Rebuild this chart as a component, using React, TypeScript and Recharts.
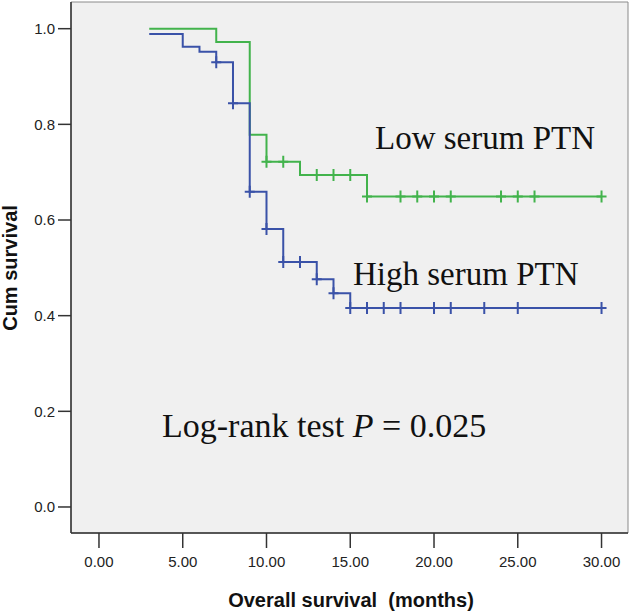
import { Line, LineChart, ReferenceArea, XAxis, YAxis } from "recharts";

// Kaplan-Meier estimates (time in months, cumulative survival after that time)
const lowTime = [3, 7, 9, 10, 11, 12, 13, 14, 15, 16, 18, 19, 20, 21, 24, 25, 26, 30];
const lowSurvival = [1.0, 0.972, 0.778, 0.722, 0.722, 0.694, 0.694, 0.694, 0.694, 0.649, 0.649, 0.649, 0.649, 0.649, 0.649, 0.649, 0.649, 0.649];
const lowCensored = [10, 11, 13, 14, 15, 16, 18, 19, 20, 21, 24, 25, 26, 30];

const highTime = [3, 5, 6, 7, 8, 9, 10, 11, 12, 13, 14, 15, 16, 17, 18, 20, 21, 23, 25, 30];
const highSurvival = [0.989, 0.962, 0.952, 0.93, 0.844, 0.659, 0.581, 0.512, 0.512, 0.476, 0.447, 0.416, 0.416, 0.416, 0.416, 0.416, 0.416, 0.416, 0.416, 0.416];
const highCensored = [7, 8, 9, 10, 11, 12, 13, 14, 15, 16, 17, 18, 20, 21, 23, 25, 30];

const timeTicks = [0, 5, 10, 15, 20, 25, 30];
const survivalTicks = [0, 0.2, 0.4, 0.6, 0.8, 1.0];

const X_DOMAIN: [number, number] = [-1.67, 31.58];
const Y_DOMAIN: [number, number] = [-0.0544, 1.0558];

const GREEN = "#42b34c";
const BLUE = "#3a52a8";

const toRows = (time: number[], surv: number[], censored: number[]) =>
  time.map((t, i) => ({ t, s: surv[i], c: censored.includes(t) }));

const lowData = toRows(lowTime, lowSurvival, lowCensored);
const highData = toRows(highTime, highSurvival, highCensored);

const censorMark = (color: string) => (props: any) => {
  const { cx, cy, payload, index } = props;
  if (!payload?.c || cx == null || cy == null) return <g key={index} />;
  return (
    <path
      key={index}
      d={`M${cx - 5},${cy}h10M${cx},${cy - 6}v12`}
      stroke={color}
      strokeWidth={2}
      fill="none"
    />
  );
};

const tickFont = { fontFamily: "'Liberation Sans', Arial, sans-serif", fontSize: 15, fill: "#222" };

export default function App() {
  return (
    <div style={{ position: "absolute", left: 0, top: 0, width: 631, height: 614, background: "#fff" }}>
      <LineChart width={631} height={614} margin={{ top: 2, right: 3, bottom: 31, left: 11 }}>
        <ReferenceArea
          x1={X_DOMAIN[0]}
          x2={X_DOMAIN[1]}
          y1={Y_DOMAIN[0]}
          y2={Y_DOMAIN[1]}
          fill="#f0f0f0"
          fillOpacity={1}
          stroke="#8a8a8a"
          strokeWidth={1}
        />
        <XAxis
          dataKey="t"
          type="number"
          domain={X_DOMAIN}
          ticks={timeTicks}
          allowDataOverflow
          height={50}
          tickSize={15}
          tickMargin={8}
          tickFormatter={(v: number) => v.toFixed(2)}
          tick={tickFont}
          axisLine={{ stroke: "#333", strokeWidth: 1.5 }}
          tickLine={{ stroke: "#333", strokeWidth: 1.5 }}
        />
        <YAxis
          type="number"
          domain={Y_DOMAIN}
          ticks={survivalTicks}
          allowDataOverflow
          width={60}
          tickSize={13}
          tickMargin={3}
          tickFormatter={(v: number) => v.toFixed(1)}
          tick={tickFont}
          axisLine={{ stroke: "#333", strokeWidth: 1.5 }}
          tickLine={{ stroke: "#333", strokeWidth: 1.5 }}
        />
        <Line
          data={lowData}
          dataKey="s"
          type="stepAfter"
          stroke={GREEN}
          strokeWidth={2}
          dot={censorMark(GREEN)}
          activeDot={false}
          isAnimationActive={false}
        />
        <Line
          data={highData}
          dataKey="s"
          type="stepAfter"
          stroke={BLUE}
          strokeWidth={2}
          dot={censorMark(BLUE)}
          activeDot={false}
          isAnimationActive={false}
        />
      </LineChart>
      <svg
        width={631}
        height={614}
        style={{ position: "absolute", left: 0, top: 0, pointerEvents: "none" }}
      >
        <g fontFamily="'Liberation Serif', 'Times New Roman', serif" fill="#111">
          <text x={375} y={149} fontSize={33}>Low serum PTN</text>
          <text x={353} y={285} fontSize={33}>High serum PTN</text>
          <text x={162} y={437} fontSize={34}>
            Log-rank test <tspan fontStyle="italic">P</tspan> = 0.025
          </text>
        </g>
        <g fontFamily="'Liberation Sans', Arial, sans-serif" fontWeight="bold" fontSize={20} fill="#111">
          <text x={351} y={607} textAnchor="middle">Overall survival{"\u00a0\u00a0"}(months)</text>
          <text x={0} y={0} textAnchor="middle" transform="translate(17,268) rotate(-90)">
            Cum survival
          </text>
        </g>
      </svg>
    </div>
  );
}
